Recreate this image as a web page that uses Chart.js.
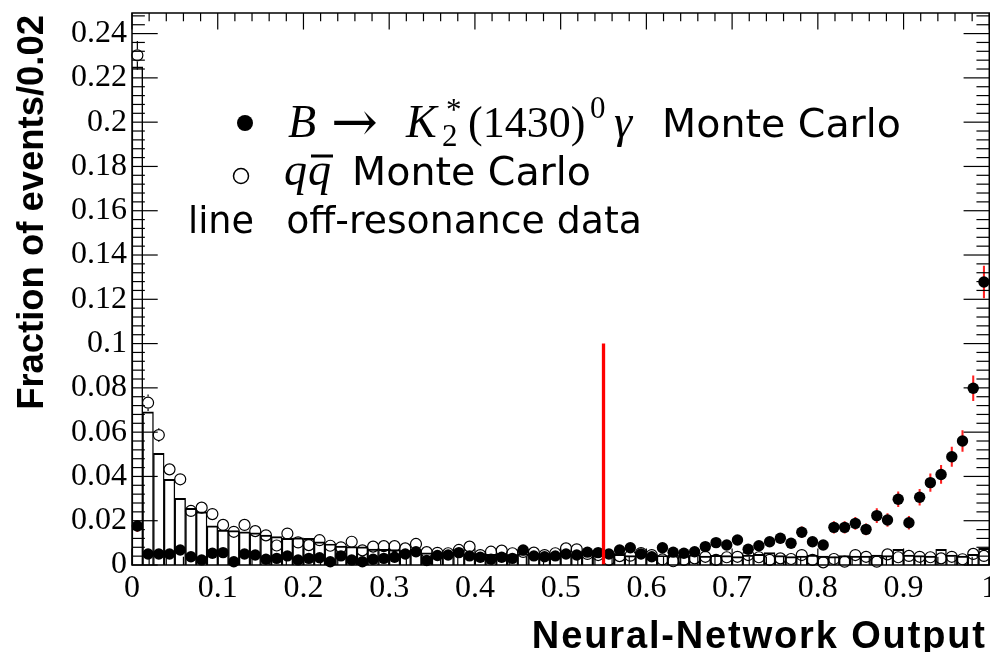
<!DOCTYPE html>
<html>
<head>
<meta charset="utf-8">
<script src="https://cdn.jsdelivr.net/npm/chart.js@4"></script>
<style>
  html, body { margin: 0; padding: 0; background: #fff; overflow: hidden; }
  #wrap { position: relative; width: 996px; height: 652px; }
</style>
</head>
<body>
<div id="wrap"><canvas id="myChart"></canvas></div>
<script>
'use strict';

// 80 bins of 0.0125 on the neural-network output
const binWidth = 0.0125;

// B -> K2*(1430) gamma Monte Carlo (filled circles)
const sigValues = [
  0.0176, 0.0050, 0.0050, 0.0050, 0.0068, 0.0037, 0.0023, 0.0053, 0.0056, 0.0015,
  0.0050, 0.0045, 0.0026, 0.0030, 0.0041, 0.0023, 0.0030, 0.0033, 0.0015, 0.0041,
  0.0023, 0.0015, 0.0026, 0.0030, 0.0035, 0.0050, 0.0060, 0.0020, 0.0043, 0.0045,
  0.0056, 0.0041, 0.0035, 0.0026, 0.0035, 0.0030, 0.0068, 0.0041, 0.0037, 0.0041,
  0.0050, 0.0045, 0.0058, 0.0056, 0.0050, 0.0068, 0.0078, 0.0050, 0.0037, 0.0078,
  0.0058, 0.0053, 0.0060, 0.0083, 0.0101, 0.0090, 0.0113, 0.0071, 0.0087, 0.0105,
  0.0121, 0.0098, 0.0148, 0.0105, 0.0090, 0.0170, 0.0170, 0.0188, 0.0161, 0.0223,
  0.0203, 0.0297, 0.0191, 0.0306, 0.0372, 0.0409, 0.0489, 0.0560, 0.0798, 0.1278
];
const sigErrors = [
  0.0026, 0.0014, 0.0014, 0.0014, 0.0016, 0.0012, 0.0010, 0.0014, 0.0015, 0.0008,
  0.0014, 0.0013, 0.0010, 0.0011, 0.0013, 0.0010, 0.0011, 0.0011, 0.0008, 0.0013,
  0.0010, 0.0008, 0.0010, 0.0011, 0.0012, 0.0014, 0.0015, 0.0009, 0.0013, 0.0013,
  0.0015, 0.0013, 0.0012, 0.0010, 0.0012, 0.0011, 0.0016, 0.0013, 0.0012, 0.0013,
  0.0014, 0.0013, 0.0015, 0.0015, 0.0014, 0.0016, 0.0018, 0.0014, 0.0012, 0.0018,
  0.0015, 0.0015, 0.0015, 0.0018, 0.0020, 0.0019, 0.0021, 0.0017, 0.0019, 0.0020,
  0.0022, 0.0020, 0.0024, 0.0020, 0.0019, 0.0026, 0.0026, 0.0027, 0.0025, 0.0032,
  0.0029, 0.0034, 0.0029, 0.0036, 0.0040, 0.0041, 0.0044, 0.0047, 0.0056, 0.0072
];

// q qbar Monte Carlo (open circles)
const qqValues = [
  0.2302, 0.0733, 0.0587, 0.0432, 0.0387, 0.0244, 0.0259, 0.0230, 0.0181, 0.0150,
  0.0181, 0.0153, 0.0134, 0.0088, 0.0142, 0.0102, 0.0090, 0.0112, 0.0087, 0.0080,
  0.0105, 0.0066, 0.0083, 0.0085, 0.0085, 0.0075, 0.0095, 0.0058, 0.0055, 0.0053,
  0.0068, 0.0083, 0.0045, 0.0060, 0.0065, 0.0053, 0.0059, 0.0056, 0.0045, 0.0053,
  0.0075, 0.0071, 0.0050, 0.0045, 0.0023, 0.0040, 0.0042, 0.0054, 0.0045, 0.0025,
  0.0017, 0.0023, 0.0030, 0.0037, 0.0023, 0.0035, 0.0037, 0.0045, 0.0035, 0.0023,
  0.0030, 0.0027, 0.0045, 0.0023, 0.0012, 0.0027, 0.0015, 0.0045, 0.0037, 0.0015,
  0.0048, 0.0035, 0.0041, 0.0037, 0.0035, 0.0030, 0.0037, 0.0026, 0.0050, 0.0041
];
const qqErrors = [
  0.0065, 0.0037, 0.0031, 0.0026, 0.0025, 0.0019, 0.0020, 0.0019, 0.0017, 0.0015,
  0.0017, 0.0015, 0.0014, 0.0012, 0.0014, 0.0012, 0.0012, 0.0013, 0.0011, 0.0011,
  0.0012, 0.0010, 0.0011, 0.0011, 0.0011, 0.0010, 0.0012, 0.0009, 0.0009, 0.0009,
  0.0010, 0.0011, 0.0008, 0.0009, 0.0010, 0.0009, 0.0009, 0.0009, 0.0008, 0.0009,
  0.0010, 0.0010, 0.0008, 0.0008, 0.0006, 0.0008, 0.0008, 0.0009, 0.0008, 0.0006,
  0.0005, 0.0006, 0.0007, 0.0007, 0.0006, 0.0007, 0.0007, 0.0008, 0.0007, 0.0006,
  0.0007, 0.0006, 0.0008, 0.0006, 0.0004, 0.0006, 0.0005, 0.0008, 0.0007, 0.0005,
  0.0008, 0.0007, 0.0007, 0.0007, 0.0007, 0.0007, 0.0007, 0.0006, 0.0008, 0.0007
];

// off-resonance data (histogram line)
const offResValues = [
  0.2250, 0.0692, 0.0504, 0.0387, 0.0301, 0.0256, 0.0240, 0.0177, 0.0158, 0.0155,
  0.0150, 0.0145, 0.0135, 0.0128, 0.0120, 0.0123, 0.0120, 0.0105, 0.0095, 0.0085,
  0.0083, 0.0082, 0.0072, 0.0071, 0.0070, 0.0065, 0.0060, 0.0055, 0.0053, 0.0053,
  0.0052, 0.0050, 0.0052, 0.0048, 0.0050, 0.0047, 0.0050, 0.0046, 0.0048, 0.0050,
  0.0045, 0.0047, 0.0050, 0.0044, 0.0046, 0.0048, 0.0042, 0.0045, 0.0047, 0.0043,
  0.0045, 0.0042, 0.0046, 0.0040, 0.0044, 0.0042, 0.0038, 0.0045, 0.0048, 0.0056,
  0.0042, 0.0038, 0.0040, 0.0045, 0.0040, 0.0038, 0.0042, 0.0040, 0.0040, 0.0045,
  0.0042, 0.0071, 0.0045, 0.0042, 0.0040, 0.0071, 0.0045, 0.0040, 0.0048, 0.0075
];

const xTickValues = [0, 0.1, 0.2, 0.3, 0.4, 0.5, 0.6, 0.7, 0.8, 0.9, 1];
const xTickLabels = ['0', '0.1', '0.2', '0.3', '0.4', '0.5', '0.6', '0.7', '0.8', '0.9', '1'];
const yTickValues = [0, 0.02, 0.04, 0.06, 0.08, 0.1, 0.12, 0.14, 0.16, 0.18, 0.2, 0.22, 0.24];
const yTickLabels = ['0', '0.02', '0.04', '0.06', '0.08', '0.1', '0.12', '0.14', '0.16', '0.18', '0.2', '0.22', '0.24'];

const cutValue = 0.55;
const cutHeight = 0.1;

const binCenters = sigValues.map( ( v, i ) => ( i + 0.5 ) * binWidth );

const openRadius = 5.5;

function points( values ) {
  return values.map( ( v, i ) => ( { x: binCenters[i], y: v } ) );
}
function errorBars( values, errors ) {
  return values.map( ( v, i ) => ( { x: binCenters[i], y: [v - errors[i], v + errors[i]] } ) );
}

function line( ctx, x1, y1, x2, y2 ) {
  ctx.beginPath();
  ctx.moveTo( x1, y1 );
  ctx.lineTo( x2, y2 );
  ctx.stroke();
}

// pick a font size so that the text takes the wanted width
function fitFont( ctx, text, style, family, width ) {
  ctx.font = `${style} 100px ${family}`;
  const size = 100 * width / ctx.measureText( text ).width;
  ctx.font = `${style} ${size}px ${family}`;
}

// q qbar error bars stop at the edge of the hollow marker
const openErrorPlugin = {
  id: 'openErrors',
  beforeDatasetsDraw( chart ) {
    const ctx = chart.ctx;
    const xs = chart.scales.x;
    const ys = chart.scales.y;
    const gap = openRadius + 0.6;
    ctx.save();
    ctx.strokeStyle = '#000';
    ctx.lineWidth = 1.2;
    for ( let i = 0; i < qqValues.length; i++ ) {
      const px = xs.getPixelForValue( binCenters[i] );
      const pc = ys.getPixelForValue( qqValues[i] );
      const hi = ys.getPixelForValue( qqValues[i] + qqErrors[i] );
      const lo = ys.getPixelForValue( qqValues[i] - qqErrors[i] );
      if ( pc - hi > gap ) line( ctx, px, hi, px, pc - gap );
      if ( lo - pc > gap ) line( ctx, px, pc + gap, px, lo );
    }
    ctx.restore();
  }
};

// frame with inward ticks on all four sides, drawn over the data
const framePlugin = {
  id: 'frame',
  afterDatasetsDraw( chart ) {
    const ctx = chart.ctx;
    const xs = chart.scales.x;
    const ys = chart.scales.y;
    const { left, right, top, bottom } = chart.chartArea;
    const xLen = ( bottom - top ) * 0.03;
    const yLen = ( right - left ) * 0.03;
    ctx.save();
    ctx.strokeStyle = '#000';
    ctx.lineWidth = 1.2;
    for ( let k = 0; k <= 50; k++ ) {
      const px = xs.getPixelForValue( k * 0.02 );
      const len = k % 5 === 0 ? xLen : xLen / 2;
      line( ctx, px, bottom, px, bottom - len );
      line( ctx, px, top, px, top + len );
    }
    for ( let k = 0; k <= 62; k++ ) {
      const py = ys.getPixelForValue( k * 0.004 );
      if ( py < top ) continue;
      const len = k % 5 === 0 ? yLen : yLen / 2;
      line( ctx, left, py, left + len, py );
      line( ctx, right, py, right - len, py );
    }
    ctx.lineWidth = 1.5;
    ctx.strokeRect( left, top, right - left, bottom - top );
    ctx.restore();
  },
  afterDraw( chart ) {
    const ctx = chart.ctx;
    ctx.save();
    ctx.fillStyle = '#000';
    ctx.strokeStyle = '#000';
    ctx.textBaseline = 'alphabetic';

    // axis titles
    ctx.textAlign = 'right';
    ctx.font = 'bold 38px "Liberation Sans"';
    const xt = 'Neural-Network Output';
    const extra = 455 - ctx.measureText( xt ).width;
    if ( 'letterSpacing' in ctx && extra > 0 ) {
      ctx.letterSpacing = ( extra / xt.length ) + 'px';
    } else {
      fitFont( ctx, xt, 'bold', '"Liberation Sans"', 455 );
    }
    ctx.fillText( xt, 985 + ( extra > 0 ? extra / xt.length : 0 ), 648 );
    if ( 'letterSpacing' in ctx ) ctx.letterSpacing = '0px';
    ctx.save();
    ctx.translate( 43, 15 );
    ctx.rotate( -Math.PI / 2 );
    fitFont( ctx, 'Fraction of events/0.02', 'bold', '"Liberation Sans"', 395 );
    ctx.fillText( 'Fraction of events/0.02', 0, 0 );
    ctx.restore();

    // legend, line 1
    ctx.textAlign = 'left';
    ctx.beginPath();
    ctx.arc( 245, 123, 8, 0, 2 * Math.PI );
    ctx.fill();
    const base1 = 137;
    ctx.font = 'italic 46px "Liberation Serif"';
    ctx.fillText( 'B', 288, base1 );
    ctx.font = '56px "DejaVu Serif"';
    ctx.fillText( '\u2192', 331, base1 + 4 );
    ctx.font = 'italic 46px "Liberation Serif"';
    ctx.fillText( 'K', 406, base1 );
    ctx.font = '31px "Liberation Serif"';
    ctx.fillText( '2', 442, base1 + 9 );
    ctx.fillText( '*', 446, base1 - 17 );
    ctx.font = '44px "Liberation Serif"';
    ctx.fillText( '(1430)', 468, base1 );
    ctx.font = '31px "Liberation Serif"';
    ctx.fillText( '0', 590, base1 - 19 );
    ctx.font = 'italic 46px "Liberation Serif"';
    ctx.fillText( '\u03b3', 614, base1 );
    ctx.textAlign = 'right';
    fitFont( ctx, 'Monte Carlo', '', '"DejaVu Sans"', 239 );
    ctx.fillText( 'Monte Carlo', 901, base1 );

    // legend, line 2
    ctx.lineWidth = 1.5;
    ctx.beginPath();
    ctx.arc( 241, 176, 7.5, 0, 2 * Math.PI );
    ctx.stroke();
    const base2 = 185;
    ctx.fillText( 'Monte Carlo', 591, base2 );
    ctx.textAlign = 'left';
    ctx.font = 'italic 46px "Liberation Serif"';
    const qw = ctx.measureText( 'q' ).width;
    const q1 = 284;
    const q2 = q1 + qw + 1;
    ctx.fillText( 'q', q1, base2 );
    ctx.fillText( 'q', q2, base2 );
    ctx.lineWidth = 3;
    line( ctx, q2 + 3, base2 - 29, q2 + qw + 2, base2 - 29 );

    // legend, line 3
    const base3 = 233;
    fitFont( ctx, 'line', '', '"DejaVu Sans"', 66 );
    ctx.fillText( 'line', 188, base3 );
    ctx.textAlign = 'right';
    fitFont( ctx, 'off-resonance data', '', '"DejaVu Sans"', 356 );
    ctx.fillText( 'off-resonance data', 642, base3 );
    ctx.restore();
  }
};

const ctx = document.getElementById( 'myChart' ).getContext( '2d' );
const myChart = new Chart( ctx, {
  type: 'scatter',
  data: {
    datasets: [
      {
        type: 'line',
        label: 'cut',
        data: [{ x: cutValue, y: 0 }, { x: cutValue, y: cutHeight }],
        borderColor: '#ff0000',
        borderWidth: 3.3,
        pointRadius: 0,
        order: 1
      },
      {
        label: 'B -> K2*(1430)0 gamma Monte Carlo',
        data: points( sigValues ),
        pointStyle: 'circle',
        pointRadius: 5.7,
        backgroundColor: '#000',
        borderWidth: 0,
        clip: false,
        order: 2
      },
      {
        type: 'bar',
        label: 'signal errors',
        data: errorBars( sigValues, sigErrors ),
        backgroundColor: '#ff2020',
        borderWidth: 0,
        barThickness: 1.4,
        grouped: false,
        order: 3
      },
      {
        label: 'q qbar Monte Carlo',
        data: points( qqValues ),
        pointStyle: 'circle',
        pointRadius: openRadius,
        backgroundColor: 'rgba(0,0,0,0)',
        borderColor: '#000',
        borderWidth: 1.2,
        clip: false,
        order: 4
      },
      {
        type: 'bar',
        label: 'off-resonance data',
        data: points( offResValues ),
        backgroundColor: 'rgba(0,0,0,0)',
        borderColor: '#000',
        borderWidth: { top: 1.3, left: 0.75, right: 0.75, bottom: 0 },
        borderSkipped: false,
        barPercentage: 1,
        categoryPercentage: 1,
        grouped: false,
        order: 6
      }
    ]
  },
  options: {
    responsive: true,
    maintainAspectRatio: false,
    animation: false,
    events: [],
    layout: { padding: { top: 13, right: 5, left: 0, bottom: 0 } },
    plugins: {
      legend: { display: false },
      tooltip: { enabled: false }
    },
    scales: {
      x: {
        type: 'linear',
        offset: false,
        min: 0,
        max: 1,
        afterBuildTicks: s => { s.ticks = xTickValues.map( v => ( { value: v } ) ); },
        afterFit: s => { s.height = 87; s.paddingLeft = 0; s.paddingRight = 0; },
        grid: { display: false, drawTicks: false, offset: false },
        border: { display: false },
        ticks: {
          autoSkip: false,
          maxRotation: 0,
          padding: 4,
          color: '#000',
          font: { family: 'Liberation Serif', size: 32 },
          callback: ( v, i ) => xTickLabels[i]
        }
      },
      y: {
        type: 'linear',
        min: 0,
        max: 0.2493,
        afterBuildTicks: s => { s.ticks = yTickValues.map( v => ( { value: v } ) ); },
        afterFit: s => { s.width = 132; s.paddingTop = 0; s.paddingBottom = 0; },
        grid: { display: false, drawTicks: false },
        border: { display: false },
        ticks: {
          autoSkip: false,
          padding: 5,
          color: '#000',
          font: { family: 'Liberation Serif', size: 32 },
          callback: ( v, i ) => yTickLabels[i]
        }
      }
    }
  },
  plugins: [openErrorPlugin, framePlugin]
} );
</script>
</body>
</html>
